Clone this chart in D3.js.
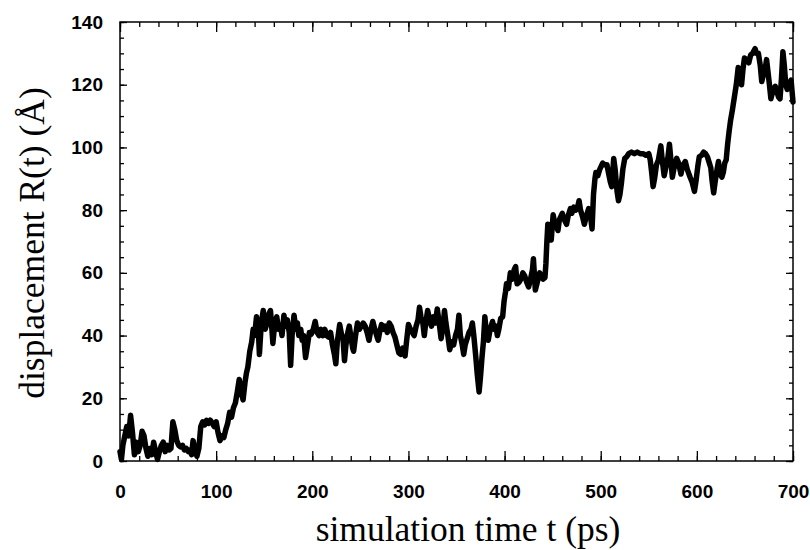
<!DOCTYPE html>
<html>
<head>
<meta charset="utf-8">
<script src="https://cdn.jsdelivr.net/npm/d3@7/dist/d3.min.js"></script>
<style>
  html, body { margin: 0; padding: 0; background: #fff; }
  svg { display: block; }
</style>
</head>
<body>
<svg id="chart" width="810" height="550"></svg>
<script>
// ---- data ----
const timePs = [0,1.5,3,5,7,9,11,13,15,17,19,21,23,25,27,29,31,33,35,37,39,41,43,45,47,49,51,53,55,57,59,61,63,65,67,69,71,73,74.5,76,78,80,82,84,86,88,90,92,94,96,98,100,102,104,106,108,110,112,114,116,118,120,122,124,126,128,130,131.5,133,135,137,138.5,140,142,144,145,147,149,151,153,155,156.5,158,159,161,163,165,167,168.5,170.5,172,174,176,177.5,179,181,183,184.5,186,188,189.5,191,193,195,197,199,201,203,205,207,209,211,213,215,217,219,221,223,224.5,226,228.5,230,232,233.5,235,237,238.5,240,242,243,245,247,249,251,253,255,257,259,261,263,265,267,268.5,270,272,274,276,278,280,282,284,286,288,290,292,294,296.5,298,300,302,304,306,308,310,311.5,313,315,316.5,318,320,322,324,326,328,330,332,334,336,337.5,339,341,343,345,347,349,351,352.5,354,356,357.5,359,361,363,365,366.5,368,370,371.5,373.5,375,376.5,378,379.5,381,383,385,387.5,389,391,392.5,394,396,398,399.5,401,402,404,406,408,410,411.5,413,415,417,419,421,423,425,427,429,430,432,434,436.5,438,440,442,443,444,445,447,448.5,450.5,452,454,455.5,457,460,462,464.5,466,468.5,470,472,474,476,477.5,479,481,483,485,487.5,489,491,492.5,494,495,497,499,502,504,506.5,508,510,511.5,513.5,515,517,518.5,520,521.5,523,525,527,529,532,535,538,541,544,547,550,551.5,553,554.5,556,558,560,562.5,564,566,568,570,571.5,573,574.5,576,579,581,583.5,585,588,590,593,595,597.5,599,601,602.5,605,607,609,611,613,614.5,616,617.5,619,621,622.5,624,626,627.5,629,630.5,632,633.5,635,637,639.5,641,643,645,646.5,648,649.5,652,654,656,658,660.5,662,664,666,667.5,669,671,672.5,674,675.5,677,679,681.5,683,685,686.5,688,689.5,691,692.5,694,696,698,699,700];
const displacement = [3,0.5,5,8,11,8,14.6,9,2,6,3,5,9.5,8,4,1.5,4,2,6,3,0.5,3,5,6,3,5,3.5,4,12.5,10,6.5,5,4.5,5,3.5,4,3,3.5,2,6.5,3.5,1.5,4,11,12.5,11.5,13,12,13,12,11,12.5,9,6.5,8,7.5,10,12,15.5,14,17,18.5,22,26,22,19.5,25,28,30,35,38,42,40,46,41,34,44,48,42,44,47,48,42,37.5,44,46,42,43,40,46.5,43,45,41,30.5,40,46.5,42,44,40,42,38.5,40,33,37,41,40.5,42,44.5,41,40,42,40,42,40,39.5,41,37,34,31,38,43.5,41,39,32,37,41,43,40,36,35,40,44,42,43,44,43,41,38.5,42,44.5,42,40,38.5,41,43.5,42,43,41,44,43,41,39.5,37,34.5,34,36,33.5,38,43.5,42,41,40,43,45,49,46,44,40,44,48,45,43,46,44,48.5,44,39,43,48,44,40,35.5,38,37,40,42,46.5,40,37,34,37,39,41,42,44,40,33.5,28,22,27,33,38,46,41,38.5,42,44.5,42,43,40,42,45.5,46,51,54,56.5,55,60,58,61,62,56.5,57,58,60,59,57,55.5,58,61,64.5,54.5,57,60,59,58,58.5,63,70,75.5,73,70.5,78.5,76,75,73.5,77,79,77,75.5,78,80.5,79,81,80,81,83,80,78,75.5,78,80.5,79,74,85,90,92,91,93,95,94.5,94.5,92,89,87.5,96.5,93,86,83,85,88.5,93,96.5,97,98,98.5,98,98.5,98,98,97.5,98,96,92,87.5,90,94.5,96,100.5,96,91,94,97,101,96,90.5,93,96.5,95,91.5,94,95.5,93,90.5,89,86,89,94,97,97.5,98.5,98,97,95,93.5,89,85.5,89,93,95.5,92,90.5,92,95,96,101,105,108.5,112,117,120,125.5,123,120,125,128.5,128,127,129.5,130,131.5,130,130,126,121,123,125,128,124,120,115.5,118,119.5,118,116,115.5,122,130.5,126,120,118.5,120,121.5,118,114.5];
const xMajorTicks = [0,100,200,300,400,500,600,700];
const yMajorTicks = [0,20,40,60,80,100,120,140];
const xLabel = "simulation time t (ps)";
const yLabel = "displacement R(t) (Å)";

// ---- layout ----
const svg = d3.select("#chart");
const mLeft = 120, mRight = 793, mTop = 22, mBottom = 461;
const x = d3.scaleLinear().domain([0, 700]).range([mLeft, mRight]);
const y = d3.scaleLinear().domain([0, 140]).range([mBottom, mTop]);

const xMinor = d3.range(0, 701, 20);
const yMinor = d3.range(0, 141, 5);
const tickFont = "bold 19px 'Liberation Sans', Arial, sans-serif";

function styleAxis(g) {
  g.select(".domain").remove();
  g.selectAll(".tick line").attr("stroke", "#000").attr("stroke-width", 1.3);
  g.selectAll("text").style("font", tickFont).attr("fill", "#000");
}

// bottom
svg.append("g").attr("transform", `translate(0,${mBottom})`)
  .call(d3.axisBottom(x).tickValues(xMinor).tickSizeInner(-5).tickSizeOuter(0).tickFormat(""))
  .call(styleAxis);
svg.append("g").attr("transform", `translate(0,${mBottom})`)
  .call(d3.axisBottom(x).tickValues(xMajorTicks).tickSizeInner(-10).tickSizeOuter(0).tickPadding(24).tickFormat(d3.format("d")))
  .call(styleAxis);
// top
svg.append("g").attr("transform", `translate(0,${mTop})`)
  .call(d3.axisTop(x).tickValues(xMinor).tickSizeInner(-5).tickSizeOuter(0).tickFormat(""))
  .call(styleAxis);
svg.append("g").attr("transform", `translate(0,${mTop})`)
  .call(d3.axisTop(x).tickValues(xMajorTicks).tickSizeInner(-10).tickSizeOuter(0).tickFormat(""))
  .call(styleAxis);
// left
svg.append("g").attr("transform", `translate(${mLeft},0)`)
  .call(d3.axisLeft(y).tickValues(yMinor).tickSizeInner(-4).tickSizeOuter(0).tickFormat(""))
  .call(styleAxis);
svg.append("g").attr("transform", `translate(${mLeft},0)`)
  .call(d3.axisLeft(y).tickValues(yMajorTicks).tickSizeInner(-7).tickSizeOuter(0).tickPadding(17).tickFormat(d3.format("d")))
  .call(styleAxis);
// right
svg.append("g").attr("transform", `translate(${mRight},0)`)
  .call(d3.axisRight(y).tickValues(yMinor).tickSizeInner(-4).tickSizeOuter(0).tickFormat(""))
  .call(styleAxis);
svg.append("g").attr("transform", `translate(${mRight},0)`)
  .call(d3.axisRight(y).tickValues(yMajorTicks).tickSizeInner(-7).tickSizeOuter(0).tickFormat(""))
  .call(styleAxis);

// frame
svg.append("rect")
  .attr("x", mLeft).attr("y", mTop)
  .attr("width", mRight - mLeft).attr("height", mBottom - mTop)
  .attr("fill", "none").attr("stroke", "#000").attr("stroke-width", 1.5);

// data line
const pts = timePs.map((t, i) => [t, displacement[i]]);
svg.append("path")
  .datum(pts)
  .attr("fill", "none")
  .attr("stroke", "#000")
  .attr("stroke-width", 5.5)
  .attr("stroke-linejoin", "round")
  .attr("stroke-linecap", "round")
  .attr("d", d3.line().x(d => x(d[0])).y(d => y(d[1])));

// axis titles
svg.append("text")
  .attr("x", 468).attr("y", 541)
  .attr("text-anchor", "middle")
  .style("font", "35.5px 'Liberation Serif', 'Times New Roman', serif")
  .attr("fill", "#000")
  .text(xLabel);
svg.append("text")
  .attr("transform", "translate(44,243) rotate(-90)")
  .attr("text-anchor", "middle")
  .style("font", "35.5px 'Liberation Serif', 'Times New Roman', serif")
  .attr("fill", "#000")
  .text(yLabel);
</script>
</body>
</html>
